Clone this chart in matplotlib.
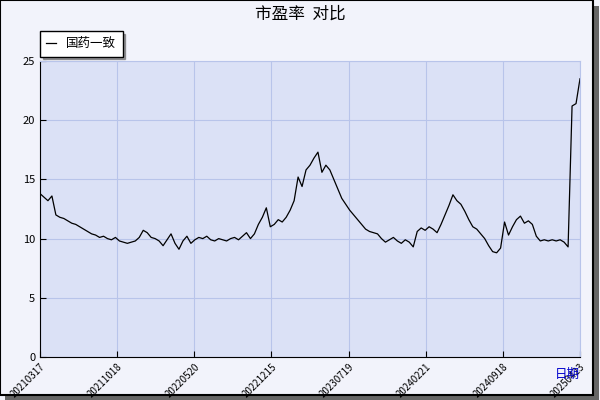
import numpy as np
import matplotlib.pyplot as plt
from matplotlib.patches import Rectangle

plt.rcParams['font.family'] = ['Noto Sans CJK SC', 'DejaVu Sans']

# 市盈率 (roughly weekly samples)
pe = [13.8, 13.5, 13.2, 13.6, 12.0, 11.8, 11.7, 11.5, 11.3, 11.2, 11.0, 10.8, 10.6, 10.4,
      10.3, 10.1, 10.2, 10.0, 9.9, 10.1, 9.8, 9.7, 9.6, 9.7, 9.8, 10.1, 10.7, 10.5, 10.1,
      10.0, 9.8, 9.4, 9.9, 10.4, 9.6, 9.1, 9.8, 10.2, 9.6, 9.9, 10.1, 10.0, 10.2, 9.9,
      9.8, 10.0, 9.9, 9.8, 10.0, 10.1, 9.9, 10.2, 10.5, 10.0, 10.4, 11.2, 11.8, 12.6,
      11.0, 11.2, 11.6, 11.4, 11.8, 12.4, 13.2, 15.2, 14.4, 15.8, 16.2, 16.8, 17.3, 15.6,
      16.2, 15.8, 15.0, 14.2, 13.4, 12.9, 12.4, 12.0, 11.6, 11.2, 10.8, 10.6, 10.5, 10.4,
      10.0, 9.7, 9.9, 10.1, 9.8, 9.6, 9.9, 9.7, 9.3, 10.6, 10.9, 10.7, 11.0, 10.8, 10.5,
      11.2, 12.0, 12.8, 13.7, 13.2, 12.9, 12.3, 11.6, 11.0, 10.8, 10.4, 10.0, 9.4, 8.9,
      8.8, 9.2, 11.4, 10.3, 11.0, 11.6, 11.9, 11.3, 11.5, 11.2, 10.2, 9.8, 9.9, 9.8, 9.9,
      9.8, 9.9, 9.7, 9.3, 21.2, 21.4, 23.5]
tick_labels = ['20210317', '20211018', '20220520', '20221215', '20230719',
               '20240221', '20240918', '20250423']

fig = plt.figure(figsize=(6, 4), dpi=100, facecolor='#f2f3fb')
# 带阴影的外框
fig.patches.append(Rectangle((0.008, 0.0), 0.99, 0.985, transform=fig.transFigure,
                             facecolor='#666666', edgecolor='none', zorder=-2))
fig.patches.append(Rectangle((0.0, 0.012), 0.988, 0.988, transform=fig.transFigure,
                             facecolor='#f2f3fb', edgecolor='black', lw=1.5, zorder=-1))

ax = fig.add_axes([40 / 600, 43 / 400, 540 / 600, 296 / 400])
ax.set_facecolor('#dbe1f6')
x = np.arange(len(pe))
ax.plot(x, pe, color='black', lw=0.9, label='国药一致')
ax.set_xlim(0, len(pe) - 1)
ax.set_ylim(0, 25)
ax.set_yticks([0, 5, 10, 15, 20, 25])
ax.set_xticks(np.linspace(0, len(pe) - 1, len(tick_labels)))
ax.set_xticklabels(tick_labels, rotation=45, fontsize=7, ha='right', rotation_mode='anchor')
ax.tick_params(axis='y', labelsize=8, direction='in', length=4)
ax.tick_params(axis='x', direction='in', length=4)
ax.grid(True, color='#b8c4ea', lw=0.8)
for s in ['top', 'right']:
    ax.spines[s].set_color('#b8c4ea')
ax.spines['left'].set_color('black')
ax.spines['bottom'].set_color('black')

fig.text(0.5, 0.965, '市盈率  对比', ha='center', va='center', fontsize=12)
fig.text(0.945, 0.055, '日期', color='#0000cc', fontsize=9, ha='center')
leg = ax.legend(loc='lower left', bbox_to_anchor=(0.0, 1.015), fontsize=9, frameon=True,
                fancybox=False, shadow=True, borderaxespad=0, handlelength=0.8,
                borderpad=0.5, edgecolor='black')
fig.savefig('out.png', dpi=100, facecolor=fig.get_facecolor())
